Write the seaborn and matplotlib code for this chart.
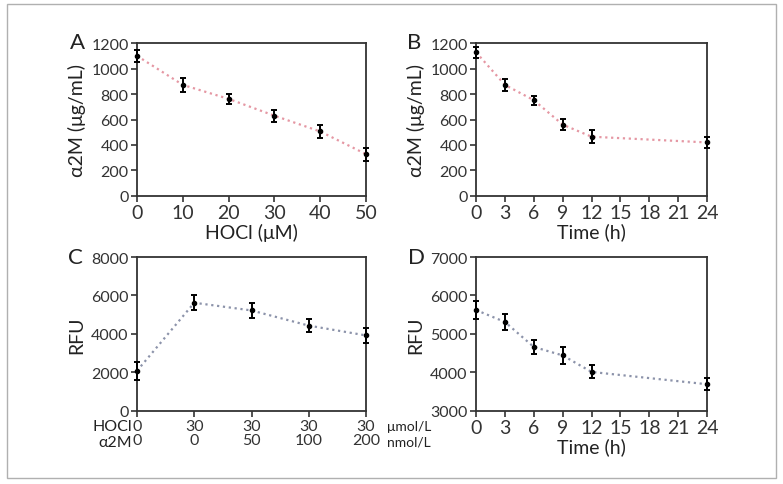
import numpy as np
import pandas as pd
import seaborn as sns
import matplotlib.pyplot as plt
from matplotlib.patches import Rectangle

# Panel A: a2M vs HOCl dose
hocl_dose = [0, 10, 20, 30, 40, 50]
a2m_dose = [1100, 872, 762, 630, 506, 328]
a2m_dose_err = [50, 52, 38, 48, 52, 52]

# Panel B: a2M vs time
time_b = [0, 3, 6, 9, 12, 24]
a2m_time = [1128, 872, 752, 560, 465, 420]
a2m_time_err = [42, 50, 36, 42, 52, 45]

# Panel C: RFU vs HOCl / a2M combination
c_pos = [0, 1, 2, 3, 4]
c_hocl = ["0", "30", "30", "30", "30"]
c_a2m = ["0", "0", "50", "100", "200"]
rfu_c = [2080, 5620, 5220, 4430, 3920]
rfu_c_err = [460, 400, 380, 330, 380]

# Panel D: RFU vs time
time_d = [0, 3, 6, 9, 12, 24]
rfu_d = [5620, 5310, 4660, 4440, 4010, 3690]
rfu_d_err = [230, 210, 190, 230, 170, 150]

sns.set_style("ticks")
plt.rcParams['font.family'] = ['Lato', 'DejaVu Sans']
plt.rcParams['text.color'] = '#222222'
plt.rcParams['axes.labelcolor'] = '#222222'
plt.rcParams['xtick.color'] = '#333333'
plt.rcParams['ytick.color'] = '#333333'

PINK = '#e597a3'
GREYBLUE = '#8c93aa'

fig = plt.figure(figsize=(7.83, 4.85), dpi=100)
fig.patches.append(Rectangle((7 / 783, 1 - 479 / 485), 769 / 783, 474 / 485,
                             transform=fig.transFigure, fill=False,
                             edgecolor='#b0b0b0', lw=1.0))

axA = fig.add_axes([0.175, 0.594, 0.2925, 0.315])
axB = fig.add_axes([0.608, 0.594, 0.295, 0.315])
axC = fig.add_axes([0.175, 0.151, 0.2925, 0.317])
axD = fig.add_axes([0.608, 0.151, 0.295, 0.317])


def draw(ax, x, y, err, color):
    df = pd.DataFrame({'x': x, 'y': y})
    sns.lineplot(data=df, x='x', y='y', ax=ax, color=color, linestyle=':',
                 lw=1.6, clip_on=False)
    ax.errorbar(x, y, yerr=err, fmt='o', color='black', ms=3, elinewidth=1.4,
                capsize=2.5, capthick=1.4, clip_on=False, zorder=5)
    for s in ax.spines.values():
        s.set_linewidth(1.3)
        s.set_color('#333333')
    ax.tick_params(length=4, width=1.2)
    ax.set_xlabel('')
    ax.set_ylabel('')


# A
draw(axA, hocl_dose, a2m_dose, a2m_dose_err, PINK)
axA.set_xlim(0, 50)
axA.set_ylim(0, 1200)
axA.set_xticks(range(0, 51, 10))
axA.set_yticks(range(0, 1201, 200))
axA.tick_params(axis='x', labelsize=14, pad=2)
axA.tick_params(axis='y', labelsize=11.5, pad=2)
axA.set_xlabel('HOCl (μM)', fontsize=14, labelpad=1)
axA.set_ylabel('α2M (μg/mL)', fontsize=14, labelpad=4)

# B
draw(axB, time_b, a2m_time, a2m_time_err, PINK)
axB.set_xlim(0, 24)
axB.set_ylim(0, 1200)
axB.set_xticks(range(0, 25, 3))
axB.set_yticks(range(0, 1201, 200))
axB.tick_params(axis='x', labelsize=14, pad=2)
axB.tick_params(axis='y', labelsize=11.5, pad=2)
axB.set_xlabel('Time (h)', fontsize=14, labelpad=1)
axB.set_ylabel('α2M (μg/mL)', fontsize=14, labelpad=4)

# C
draw(axC, c_pos, rfu_c, rfu_c_err, GREYBLUE)
axC.set_xlim(0, 4)
axC.set_ylim(0, 8000)
axC.set_xticks(c_pos)
axC.set_xticklabels([h + '\n' + a for h, a in zip(c_hocl, c_a2m)],
                    linespacing=0.95)
axC.set_yticks(range(0, 8001, 2000))
axC.tick_params(axis='x', labelsize=11.5, pad=2)
axC.tick_params(axis='y', labelsize=11.5, pad=2)
axC.set_ylabel('RFU', fontsize=14, labelpad=4)
for txt, dy in [('HOCl', -15), ('α2M', -31)]:
    axC.annotate(txt, xy=(0, 0), xycoords=('data', 'axes fraction'),
                 xytext=(-5, dy), textcoords='offset pixels',
                 ha='right', va='center', fontsize=11.5)
for txt, dy in [('μmol/L', -15), ('nmol/L', -31)]:
    axC.annotate(txt, xy=(4, 0), xycoords=('data', 'axes fraction'),
                 xytext=(21, dy), textcoords='offset pixels',
                 ha='left', va='center', fontsize=10)

# D
draw(axD, time_d, rfu_d, rfu_d_err, GREYBLUE)
axD.set_xlim(0, 24)
axD.set_ylim(3000, 7000)
axD.set_xticks(range(0, 25, 3))
axD.set_yticks(range(3000, 7001, 1000))
axD.tick_params(axis='x', labelsize=14, pad=2)
axD.tick_params(axis='y', labelsize=11.5, pad=2)
axD.set_xlabel('Time (h)', fontsize=14, labelpad=1)
axD.set_ylabel('RFU', fontsize=14, labelpad=4)

# panel letters
for letter, x, y in [('A', 78, 43), ('B', 414, 43), ('C', 75, 258), ('D', 416, 258)]:
    fig.text(x / 783, 1 - y / 485, letter, fontsize=16, ha='center', va='center')

fig.savefig('out.png', dpi=100)
